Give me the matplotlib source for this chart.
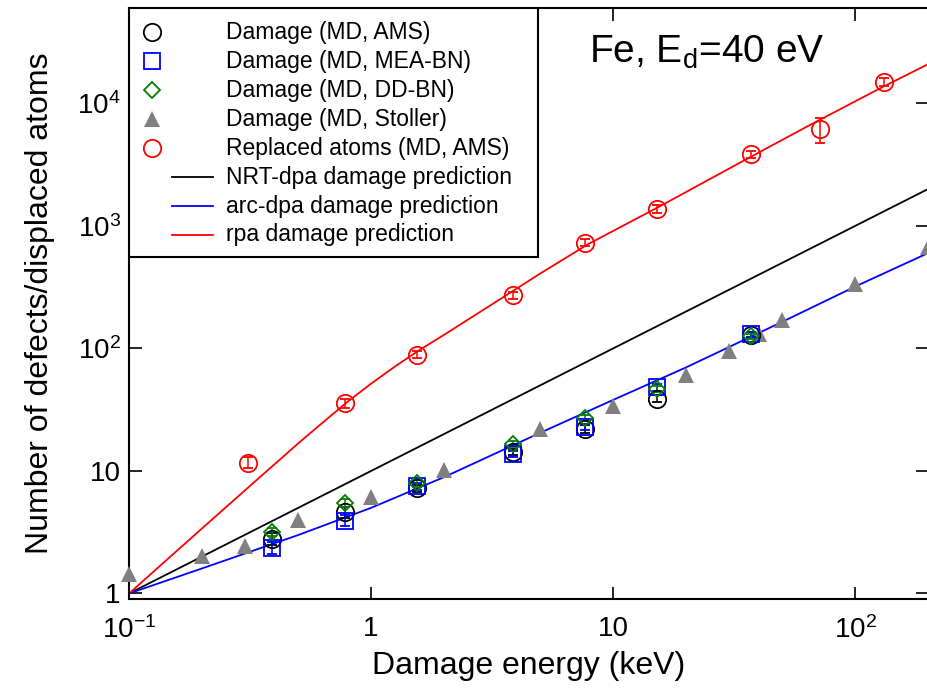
import matplotlib
matplotlib.use("Agg")
import matplotlib.pyplot as plt
from matplotlib.patches import Rectangle
from matplotlib.ticker import NullLocator

plt.rcParams["font.family"] = ["Liberation Sans", "DejaVu Sans"]
plt.rcParams["mathtext.fontset"] = "custom"
plt.rcParams["mathtext.rm"] = "Liberation Sans"
plt.rcParams["mathtext.it"] = "Liberation Sans:italic"

# --- MD data (damage energy in keV) ---
x_md = [0.39, 0.78, 1.55, 3.87, 7.66, 15.2, 37.1]
ams_y = [2.8, 4.6, 7.2, 14.2, 22.0, 39.0, 129]
ams_err = [0.3, 0.5, 0.5, 0.8, 1.5, 2.5, 6]
mea_y = [2.36, 3.94, 7.5, 13.8, 22.8, 48.0, 131]
mea_err = [0.25, 0.4, 0.5, 0.8, 1.4, 3.0, 6]
dd_y = [3.17, 5.46, 7.9, 16.7, 27.2, 47.0, 126]
dd_err = [0.25, 0.4, 0.5, 0.9, 1.5, 2.5, 6]

stoller_x = [0.1, 0.2, 0.3, 0.5, 1, 2, 5, 10, 20, 30, 40, 50, 100, 200]
stoller_y = [1.45, 2.04, 2.46, 3.95, 6.1, 10.1, 22.1, 33.6, 61, 95, 130, 169, 333, 671]

rep_x = [0.31, 0.78, 1.55, 3.87, 7.66, 15.2, 37.1, 71.2, 131]
rep_y = [11.7, 35.6, 89, 271, 729, 1372, 3836, 6135, 14900]
rep_err = [1.2, 3.0, 6, 18, 50, 100, 280, 1400, 1100]

# --- model predictions ---
nrt_x = [0.1, 200]
nrt_y = [1, 2000]
arc_x = [0.1, 0.2, 0.5, 1, 2, 5, 10, 20, 50, 100, 200]
arc_y = [1, 1.6, 3.0, 5.0, 8.9, 20.5, 38, 70, 165, 320, 600]
rpa_x = [0.1, 0.2, 0.316, 0.5, 0.631, 0.794, 1.0, 1.26, 1.58, 2.0, 3.16, 5.01, 7.94,
         15.85, 31.6, 63.1, 125.9, 200]
rpa_y = [1, 3.39, 7.55, 16.8, 24.8, 36.3, 51.6, 71.6, 96.6, 129, 229, 410, 715,
         1470, 3090, 6457, 13183, 20893]

x_ticks = [0.1, 1, 10, 100]
x_ticklabels = [r"$10^{-1}$", "1", "10", r"$10^{2}$"]
y_ticks = [1, 10, 100, 1000, 10000]
y_ticklabels = ["1", "10", r"$10^{2}$", r"$10^{3}$", r"$10^{4}$"]

fig = plt.figure(figsize=(9.27, 6.95), dpi=100)
ax = fig.add_axes([0.1392, 0.138, 0.862, 0.8505])
ax.set_xscale("log")
ax.set_yscale("log")

ax.plot(nrt_x, nrt_y, color="black", lw=1.3, zorder=2)
ax.plot(arc_x, arc_y, color="blue", lw=1.3, zorder=2)
ax.plot(rpa_x, rpa_y, color="red", lw=1.3, zorder=2)

ax.plot(stoller_x, stoller_y, "^", color="#808080", ms=12, mew=0, zorder=3, clip_on=False)

ebar = dict(ls="none", capsize=3.5, elinewidth=1.1, capthick=1.1, mfc="none", mew=1.3, zorder=4)
ax.errorbar(x_md, ams_y, yerr=ams_err, marker="o", ms=12.5, color="black", mec="black", **ebar)
ax.errorbar(x_md, mea_y, yerr=mea_err, marker="s", ms=12, color="blue", mec="blue", **ebar)
ax.errorbar(x_md, dd_y, yerr=dd_err, marker="D", ms=8.5, color="green", mec="green", **ebar)
ax.errorbar(rep_x, rep_y, yerr=rep_err, marker="o", ms=12.5, color="red", mec="red", **ebar)

ax.set_xlim(0.1, 200)
ax.set_ylim(0.9, 6e4)
ax.set_xticks(x_ticks, x_ticklabels)
ax.set_yticks(y_ticks, y_ticklabels)
ax.xaxis.set_minor_locator(NullLocator())
ax.yaxis.set_minor_locator(NullLocator())
ax.tick_params(direction="in", top=True, right=True, length=9, width=1.2, labelsize=20)
ax.tick_params(axis="x", pad=12)
ax.tick_params(axis="y", pad=6)
for sp in ax.spines.values():
    sp.set_linewidth(1.5)

ax.set_xlabel("Damage energy (keV)", fontsize=23, labelpad=5)
ax.set_ylabel("Number of defects/displaced atoms", fontsize=23, labelpad=16)

ax.text(0.723, 0.925, r"Fe, E$_{\rm d}$=40 eV", transform=ax.transAxes,
        fontsize=28, ha="center", va="center")

# --- legend drawn by hand (markers sit left of the line samples) ---
legend_labels = ["Damage (MD, AMS)", "Damage (MD, MEA-BN)", "Damage (MD, DD-BN)",
                 "Damage (MD, Stoller)", "Replaced atoms (MD, AMS)",
                 "NRT-dpa damage prediction", "arc-dpa damage prediction",
                 "rpa damage prediction"]
legend_styles = [("o", "black", "none", 12.5), ("s", "blue", "none", 12),
                 ("D", "green", "none", 8.5), ("^", "#808080", "#808080", 12),
                 ("o", "red", "none", 12.5), ("-", "black", None, 0),
                 ("-", "blue", None, 0), ("-", "red", None, 0)]

ax.add_patch(Rectangle((0, 0.5787), 0.512, 0.4213, transform=ax.transAxes,
                       facecolor="white", edgecolor="black", lw=1.5, zorder=5))
y0, step = 0.959, 0.0490
for i, (lab, (m, c, fc, s)) in enumerate(zip(legend_labels, legend_styles)):
    yy = y0 - i * step
    if m == "-":
        ax.plot([0.0538, 0.105], [yy, yy], color=c, lw=1.3,
                transform=ax.transAxes, zorder=6, clip_on=False)
    else:
        ax.plot([0.0288], [yy], marker=m, ms=s, mfc=fc, mec=c, mew=1.3 if fc == "none" else 0,
                ls="none", transform=ax.transAxes, zorder=6, clip_on=False)
    ax.text(0.1214, yy, lab, transform=ax.transAxes, fontsize=16.5,
            ha="left", va="center", zorder=7)

fig.savefig("out.png", dpi=100)
